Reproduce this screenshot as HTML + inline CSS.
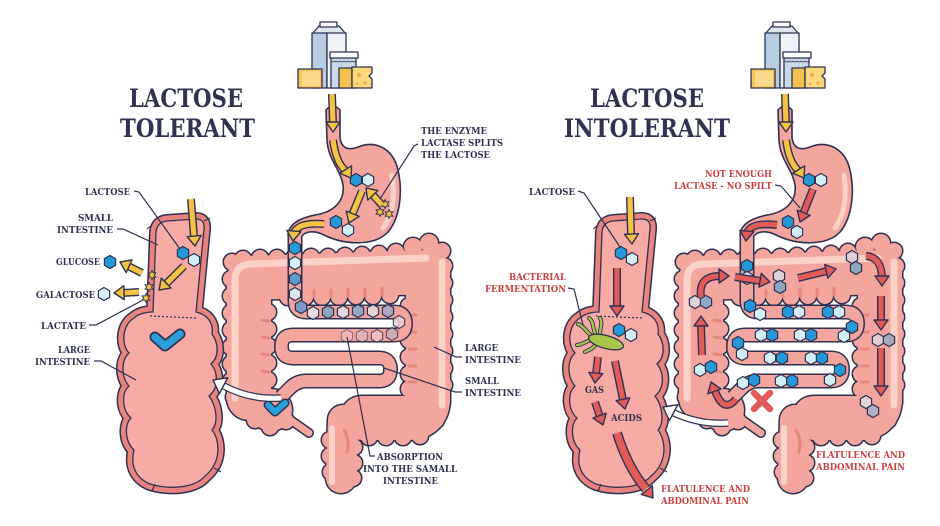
<!DOCTYPE html>
<html><head><meta charset="utf-8"><style>
html,body{margin:0;padding:0;background:#fff;}
svg{display:block;}
.lb{font-family:"DejaVu Serif","Liberation Serif",serif;font-weight:bold;font-size:9.5px;fill:#2e3150;}
.rd{fill:#c9403e;}
.tt{font-family:"DejaVu Serif","Liberation Serif",serif;font-weight:bold;font-size:25px;fill:#2f3250;}
.ln{fill:none;stroke:#2e3150;stroke-width:1.2;}
.o{fill:none;stroke:#2e3150;stroke-width:8;}
.y{fill:none;stroke:#f6c244;stroke-width:5.2;}
.r{fill:none;stroke:#e25b58;stroke-width:5.2;}
</style></head><body>
<svg width="940" height="526" viewBox="0 0 940 526" xmlns="http://www.w3.org/2000/svg">
<defs>
<polygon id="hx" points="0,-6.5 5.6,-3.25 5.6,3.25 0,6.5 -5.6,3.25 -5.6,-3.25" stroke="#2e3150" stroke-width="1.2"/>
<polygon id="st" points="0,-4.5 1.2,-2.08 3.9,-2.25 2.4,0 3.9,2.25 1.2,2.08 0,4.5 -1.2,2.08 -3.9,2.25 -2.4,0 -3.9,-2.25 -1.2,-2.08" fill="#f6c244" stroke="#2e3150" stroke-width="0.9"/>
<path id="ah" d="M0,0 L-10,-7 L-10,7 Z" stroke="#2e3150" stroke-width="1.4" stroke-linejoin="round"/>
<path id="ahw" d="M0,0 L-12,-9 L-12,9 Z" stroke="#2e3150" stroke-width="1.4" stroke-linejoin="round" fill="#fff"/>
<g id="bumps">
<circle cx="232" cy="262" r="8"/><circle cx="231" cy="279" r="8"/><circle cx="231" cy="296" r="8"/><circle cx="231" cy="313" r="8"/><circle cx="231" cy="330" r="8"/><circle cx="231" cy="347" r="8"/><circle cx="231" cy="364" r="8"/><circle cx="231" cy="381" r="8"/><circle cx="234" cy="397" r="8"/>
<circle cx="268" cy="312" r="8"/><circle cx="268" cy="329" r="8"/><circle cx="268" cy="346" r="8"/><circle cx="268" cy="363" r="8"/><circle cx="268" cy="380" r="8"/>
<circle cx="243" cy="259" r="8"/><circle cx="260" cy="258" r="8"/><circle cx="277" cy="258" r="8"/><circle cx="294" cy="258" r="8"/><circle cx="311" cy="257" r="8"/><circle cx="328" cy="257" r="8"/><circle cx="345" cy="256" r="8"/><circle cx="362" cy="255" r="8"/><circle cx="379" cy="254" r="8"/><circle cx="396" cy="252" r="8"/><circle cx="413" cy="247" r="9"/><circle cx="429" cy="243" r="9"/><circle cx="442" cy="251" r="8"/>
<circle cx="288" cy="297" r="8"/><circle cx="305" cy="297" r="8"/><circle cx="322" cy="297" r="8"/><circle cx="339" cy="297" r="8"/><circle cx="356" cy="296" r="8"/><circle cx="373" cy="296" r="8"/><circle cx="390" cy="295" r="8"/>
<circle cx="444" cy="266" r="8"/><circle cx="444" cy="283" r="8"/><circle cx="444" cy="300" r="8"/><circle cx="444" cy="317" r="8"/><circle cx="444" cy="334" r="8"/><circle cx="444" cy="351" r="8"/><circle cx="444" cy="368" r="8"/><circle cx="444" cy="385" r="8"/><circle cx="442" cy="402" r="8"/><circle cx="436" cy="420" r="8"/>
<circle cx="409" cy="306" r="8"/><circle cx="409" cy="323" r="8"/><circle cx="409" cy="340" r="8"/><circle cx="409" cy="357" r="8"/><circle cx="409" cy="374" r="8"/><circle cx="409" cy="389" r="8"/>
<circle cx="420" cy="436" r="8"/><circle cx="403" cy="437" r="8"/><circle cx="386" cy="437" r="8"/><circle cx="369" cy="437" r="8"/>
<circle cx="330" cy="440" r="8"/><circle cx="330" cy="456" r="8"/><circle cx="331" cy="472" r="8"/><circle cx="354" cy="447" r="8"/><circle cx="354" cy="463" r="8"/><circle cx="353" cy="478" r="8"/>
<circle cx="255" cy="420" r="8"/><circle cx="270" cy="427" r="8"/><circle cx="286" cy="421" r="8"/>
</g>
<g id="colon">
<path d="M249,398 L249,278 L428,272 L428,398 Q428,418 408,418 L362,418" fill="none" stroke="#2e3150" stroke-width="47" stroke-linejoin="round" stroke-linecap="round"/>
<path d="M343,420 L341,478" fill="none" stroke="#2e3150" stroke-width="33" stroke-linecap="round"/>
<circle cx="271" cy="410" r="22.5" fill="#2e3150"/>
<path d="M292,421 L309,433" stroke="#2e3150" stroke-width="10" stroke-linecap="round"/>
<use href="#bumps" fill="#2e3150" stroke="#2e3150" stroke-width="3"/>
<path d="M249,398 L249,278 L428,272 L428,398 Q428,418 408,418 L362,418" fill="none" stroke="#f4a59e" stroke-width="44" stroke-linejoin="round" stroke-linecap="round"/>
<path d="M343,420 L341,478" fill="none" stroke="#f4a59e" stroke-width="30" stroke-linecap="round"/>
<circle cx="271" cy="410" r="21" fill="#f4a59e"/>
<path d="M292,421 L309,433" stroke="#f4a59e" stroke-width="7" stroke-linecap="round"/>
<use href="#bumps" fill="#f4a59e"/>
<path d="M235,398 L235,280 Q235,264 252,264 L426,258" stroke="#fbd2c7" stroke-width="7" fill="none" stroke-linecap="round"/>
<path d="M442,262 L442,405" stroke="#fbd2c7" stroke-width="7" fill="none" stroke-linecap="round"/>
<path d="M332,428 L332,482" stroke="#fbd2c7" stroke-width="6" fill="none" stroke-linecap="round"/>
<g stroke="#e5877f" stroke-width="3" stroke-linecap="round" fill="none">
<path d="M262,320 L269,321 M262,337 L269,338 M262,354 L269,355 M262,371 L269,372"/>
<path d="M297,290 L297,297 M314,290 L314,297 M331,290 L331,297 M348,289 L348,296 M365,289 L365,296 M382,288 L382,295"/>
<path d="M409,315 L416,315 M409,332 L416,332 M409,349 L416,349 M409,366 L416,366 M409,382 L416,382"/>
<path d="M344,430 Q350,440 347,452"/>
</g>
<path d="M295,230 L295,301 Q295,312 306,312 L394,312 Q405.5,312 405.5,323.5 Q405.5,335 394,335 L293,335 Q281.5,335 281.5,346.5 Q281.5,358 293,358 L379,358 Q390.5,358 390.5,369.5 Q390.5,381 379,381 L306,381 Q297,381 290,388 L281,397" fill="none" stroke="#2e3150" stroke-width="15" stroke-linejoin="round"/>
<path d="M295,230 L295,301 Q295,312 306,312 L394,312 Q405.5,312 405.5,323.5 Q405.5,335 394,335 L293,335 Q281.5,335 281.5,346.5 Q281.5,358 293,358 L379,358 Q390.5,358 390.5,369.5 Q390.5,381 379,381 L306,381 Q297,381 290,388 L281,397" fill="none" stroke="#f4a59e" stroke-width="12" stroke-linejoin="round"/>
<path d="M326,110 Q333,102 340,110 L340,138 C342,150 350,150 358,147 C375,140 393,148 398,170 C403,192 400,218 388,232 C375,246 345,246 322,234 C312,230 305,232 302,236 L288,236 C288,224 300,218 315,215 C335,212 345,200 343,185 C341,170 328,160 327,140 Z" fill="#f4a59e"/>
<path d="M392,175 C395,195 393,215 383,228" fill="none" stroke="#fbd2c7" stroke-width="5" stroke-linecap="round"/>
<path d="M288,236 C288,224 300,218 315,215 C335,212 345,200 343,185 C341,170 328,160 327,140 L326,110 Q333,102 340,110 L340,138 C342,150 350,150 358,147 C375,140 393,148 398,170 C403,192 400,218 388,232 C375,246 345,246 322,234 C312,230 305,232 302,236" fill="none" stroke="#2e3150" stroke-width="1.6"/>
</g>
<g id="xs">
<path d="M153,312 L156,232 Q157,222 167,221 L196,219 Q205,219 204,229 L196,312 C206,314 214,322 212,334 C218,342 220,356 211,364 C218,372 219,388 209,396 C216,405 219,422 212,430 C220,440 222,462 205,476 C195,488 170,490 150,484 C136,478 130,466 134,450 C125,442 124,425 131,418 C122,410 121,393 129,386 C121,377 121,360 129,353 C121,345 122,325 134,318 C140,313 148,312 153,312 Z" fill="none" stroke="#2e3150" stroke-width="14" stroke-linejoin="round"/>
<path d="M153,312 L156,232 Q157,222 167,221 L196,219 Q205,219 204,229 L196,312 C206,314 214,322 212,334 C218,342 220,356 211,364 C218,372 219,388 209,396 C216,405 219,422 212,430 C220,440 222,462 205,476 C195,488 170,490 150,484 C136,478 130,466 134,450 C125,442 124,425 131,418 C122,410 121,393 129,386 C121,377 121,360 129,353 C121,345 122,325 134,318 C140,313 148,312 153,312 Z" fill="none" stroke="#e8837e" stroke-width="11" stroke-linejoin="round"/>
<path d="M153,312 L156,232 Q157,222 167,221 L196,219 Q205,219 204,229 L196,312 C206,314 214,322 212,334 C218,342 220,356 211,364 C218,372 219,388 209,396 C216,405 219,422 212,430 C220,440 222,462 205,476 C195,488 170,490 150,484 C136,478 130,466 134,450 C125,442 124,425 131,418 C122,410 121,393 129,386 C121,377 121,360 129,353 C121,345 122,325 134,318 C140,313 148,312 153,312 Z" fill="#f7aba4" stroke="#2e3150" stroke-width="1.3"/>
<path d="M150,316 L197,318" stroke="#2e3150" stroke-width="1.2" stroke-dasharray="2,2" fill="none"/>
<path d="M152,225 L147,229 M204,221 L210,218 M155,484 L152,491 M214,468 L221,472" stroke="#2e3150" stroke-width="1.1" fill="none"/>
</g>
<g id="dairy" stroke="#2e3150" stroke-width="1.3" stroke-linejoin="round">
<polygon points="312,34 319,26 339,26 346,34" fill="#dfe8f0"/>
<rect x="320" y="22" width="17" height="5" fill="#fff"/>
<rect x="312" y="33" width="15" height="55" fill="#b8cde0"/>
<rect x="327" y="33" width="19" height="55" fill="#eef3f7"/>
<rect x="331" y="57" width="25" height="31" fill="#c8d9e7"/>
<rect x="330" y="52" width="28" height="6" fill="#fff"/>
<path d="M332,61 q2,2 4,0 q2,2 4,0 q2,2 4,0 q2,2 4,0 q2,2 4,0 q2,2 4,0" fill="none" stroke-width="0.8"/>
<rect x="298" y="69" width="24" height="19" fill="#f6c453"/>
<rect x="302" y="71" width="18" height="15" fill="#fbd98c" stroke="none"/>
<rect x="339" y="68" width="13" height="20" fill="#f5c24f"/>
<path d="M352,67 L372,67 L372,73 L369,76 L372,79 L372,88 L352,88 Z" fill="#fbd77d"/>
<circle cx="359" cy="75" r="2" fill="#f0ac4a" stroke="none"/><circle cx="365" cy="83" r="1.5" fill="#f0ac4a" stroke="none"/><circle cx="357" cy="84" r="1.2" fill="#f0ac4a" stroke="none"/>
</g>
</defs>
<rect width="940" height="526" fill="#fff"/>

<use href="#colon"/>
<use href="#colon" x="452"/>
<use href="#xs"/>
<use href="#xs" x="446"/>
<use href="#dairy"/>
<use href="#dairy" x="453"/>

<!-- Titles -->
<text class="tt" x="129" y="107" textLength="114" lengthAdjust="spacingAndGlyphs">LACTOSE</text>
<text class="tt" x="120" y="137" textLength="135" lengthAdjust="spacingAndGlyphs">TOLERANT</text>
<text class="tt" x="590" y="107" textLength="114" lengthAdjust="spacingAndGlyphs">LACTOSE</text>
<text class="tt" x="564" y="137" textLength="166" lengthAdjust="spacingAndGlyphs">INTOLERANT</text>

<!-- LEFT PANEL details -->
<g>
<use href="#hx" x="356" y="180" fill="#2598d8"/><use href="#hx" x="368" y="180" fill="#d4f1fb"/>
<use href="#hx" x="336" y="222" fill="#2598d8"/><use href="#hx" x="348" y="230" fill="#d4f1fb"/>
<use href="#hx" x="295" y="248" fill="#2598d8"/><use href="#hx" x="295" y="263" fill="#d4f1fb"/>
<use href="#hx" x="295" y="279" fill="#5f9cc9"/><use href="#hx" x="295" y="294" fill="#dfe5ec"/>
<use href="#hx" x="301" y="307" fill="#7d9cc1"/><use href="#hx" x="313" y="313" fill="#ecdde1"/>
<use href="#hx" x="328" y="312" fill="#8ea3c0"/><use href="#hx" x="343" y="312" fill="#e8d5da"/>
<use href="#hx" x="358" y="311" fill="#99a8c2"/><use href="#hx" x="373" y="311" fill="#e6d2d6"/>
<use href="#hx" x="388" y="311" fill="#aaa9c0"/><use href="#hx" x="399" y="322" fill="#edd0d2" opacity="0.85"/>
<use href="#hx" x="392" y="334" fill="#c4aebb" opacity="0.75"/><use href="#hx" x="377" y="336" fill="#efcdcf" opacity="0.7"/>
<use href="#hx" x="362" y="336" fill="#dcbcc3" opacity="0.55"/><use href="#hx" x="347" y="336" fill="#f2cccc" opacity="0.45"/>
<use href="#hx" x="183" y="253" fill="#2598d8"/><use href="#hx" x="194" y="260" fill="#d4f1fb"/>
<use href="#hx" x="110" y="262" fill="#2598d8"/><use href="#hx" x="104" y="294" fill="#d4f1fb"/>
<use href="#st" x="385" y="204"/><use href="#st" x="380" y="212"/><use href="#st" x="389" y="214"/>
<use href="#st" x="152" y="275"/><use href="#st" x="149" y="287"/><use href="#st" x="146" y="298"/>

<path class="o" d="M332,94 L333,124"/><path class="y" d="M332,94 L333,124"/><use href="#ah" fill="#f6c244" transform="translate(333,132) rotate(90)"/>
<path class="o" d="M333,140 Q336,163 346,171"/><path class="y" d="M333,140 Q336,163 346,171"/><use href="#ah" fill="#f6c244" transform="translate(351,178) rotate(58)"/>
<path class="o" d="M362,191 L352,215"/><path class="y" d="M362,191 L352,215"/><use href="#ah" fill="#f6c244" transform="translate(349,223) rotate(112)"/>
<path class="o" d="M382,205 L372,194"/><path class="y" d="M382,205 L372,194"/><use href="#ah" fill="#f6c244" transform="translate(366,188) rotate(227)"/>
<path class="o" d="M324,224 Q298,222 294,233"/><path class="y" d="M324,224 Q298,222 294,233"/><use href="#ah" fill="#f6c244" transform="translate(293,241) rotate(95)"/>
<path class="o" d="M191,199 L194,237"/><path class="y" d="M191,199 L194,237"/><use href="#ah" fill="#f6c244" transform="translate(195,246) rotate(85)"/>
<path class="o" d="M184,266 L166,284"/><path class="y" d="M184,266 L166,284"/><use href="#ah" fill="#f6c244" transform="translate(159,290) rotate(136)"/>
<path class="o" d="M142,273 L128,266"/><path class="y" d="M142,273 L128,266"/><use href="#ah" fill="#f6c244" transform="translate(120,262) rotate(205)"/>
<path class="o" d="M139,292 L122,293"/><path class="y" d="M139,292 L122,293"/><use href="#ah" fill="#f6c244" transform="translate(114,293) rotate(178)"/>

<path d="M155,337 L165,346 L180,334" fill="none" stroke="#2e3150" stroke-width="11" stroke-linecap="round" stroke-linejoin="round"/>
<path d="M155,337 L165,346 L180,334" fill="none" stroke="#2a9fd9" stroke-width="7.5" stroke-linecap="round" stroke-linejoin="round"/>
<path d="M268,405 L275,412 L285,403" fill="none" stroke="#2e3150" stroke-width="9" stroke-linecap="round" stroke-linejoin="round"/>
<path d="M268,405 L275,412 L285,403" fill="none" stroke="#2a9fd9" stroke-width="6" stroke-linecap="round" stroke-linejoin="round"/>

<path d="M281,398 Q250,400 224,386" fill="none" stroke="#2e3150" stroke-width="7.5"/>
<path d="M281,398 Q250,400 224,386" fill="none" stroke="#fff" stroke-width="5"/>
<use href="#ahw" transform="translate(213,380) rotate(208)"/>

<path class="ln" d="M134,191 L139,192 L180,249"/>
<path class="ln" d="M117,229 L123,229 L158,245"/>
<path class="ln" d="M89,325 L96,325 L143,300"/>
<path class="ln" d="M94,361 L101,361 L136,380"/>
<path class="ln" d="M418,144 L414,146 L380,199"/>
<path class="ln" d="M462,357 L456,357 L434,347"/>
<path class="ln" d="M462,392 L455,392 L384,368"/>
<path class="ln" d="M375,456 L370,456 L347,337"/>

<text class="lb" x="85" y="195" textLength="45" lengthAdjust="spacingAndGlyphs">LACTOSE</text>
<text class="lb" x="78" y="221" textLength="35" lengthAdjust="spacingAndGlyphs">SMALL</text>
<text class="lb" x="57" y="233" textLength="56" lengthAdjust="spacingAndGlyphs">INTESTINE</text>
<text class="lb" x="56" y="265" textLength="44" lengthAdjust="spacingAndGlyphs">GLUCOSE</text>
<text class="lb" x="36" y="298" textLength="59" lengthAdjust="spacingAndGlyphs">GALACTOSE</text>
<text class="lb" x="41" y="329" textLength="45" lengthAdjust="spacingAndGlyphs">LACTATE</text>
<text class="lb" x="58" y="353" textLength="32" lengthAdjust="spacingAndGlyphs">LARGE</text>
<text class="lb" x="35" y="365" textLength="55" lengthAdjust="spacingAndGlyphs">INTESTINE</text>
<text class="lb" x="421" y="134" textLength="66" lengthAdjust="spacingAndGlyphs">THE ENZYME</text>
<text class="lb" x="421" y="146" textLength="82" lengthAdjust="spacingAndGlyphs">LACTASE SPLITS</text>
<text class="lb" x="421" y="158" textLength="69" lengthAdjust="spacingAndGlyphs">THE LACTOSE</text>
<text class="lb" x="465" y="351" textLength="33" lengthAdjust="spacingAndGlyphs">LARGE</text>
<text class="lb" x="465" y="363" textLength="56" lengthAdjust="spacingAndGlyphs">INTESTINE</text>
<text class="lb" x="465" y="384" textLength="34" lengthAdjust="spacingAndGlyphs">SMALL</text>
<text class="lb" x="465" y="396" textLength="56" lengthAdjust="spacingAndGlyphs">INTESTINE</text>
<text class="lb" x="377" y="460" textLength="66" lengthAdjust="spacingAndGlyphs">ABSORPTION</text>
<text class="lb" x="363" y="472" textLength="94" lengthAdjust="spacingAndGlyphs">INTO THE SAMALL</text>
<text class="lb" x="383" y="484" textLength="55" lengthAdjust="spacingAndGlyphs">INTESTINE</text>
</g>

<!-- RIGHT PANEL details -->
<g>
<use href="#hx" x="809" y="180" fill="#2598d8"/><use href="#hx" x="821" y="180" fill="#d4f1fb"/>
<use href="#hx" x="788" y="222" fill="#2598d8"/><use href="#hx" x="797" y="232" fill="#d4f1fb"/>
<use href="#hx" x="747" y="266" fill="#2598d8"/><use href="#hx" x="747" y="278" fill="#d4f1fb"/>
<use href="#hx" x="750" y="306" fill="#2598d8"/><use href="#hx" x="760" y="314" fill="#d4f1fb"/>
<use href="#hx" x="788" y="312" fill="#2598d8"/><use href="#hx" x="799" y="312" fill="#d4f1fb"/>
<use href="#hx" x="828" y="312" fill="#2598d8"/><use href="#hx" x="839" y="312" fill="#d4f1fb"/>
<use href="#hx" x="852" y="327" fill="#2598d8"/><use href="#hx" x="844" y="336" fill="#d4f1fb"/>
<use href="#hx" x="811" y="335" fill="#2598d8"/><use href="#hx" x="800" y="335" fill="#d4f1fb"/>
<use href="#hx" x="772" y="335" fill="#2598d8"/><use href="#hx" x="761" y="335" fill="#d4f1fb"/>
<use href="#hx" x="738" y="343" fill="#2598d8"/><use href="#hx" x="742" y="354" fill="#d4f1fb"/>
<use href="#hx" x="770" y="358" fill="#d4f1fb"/><use href="#hx" x="782" y="358" fill="#2598d8"/>
<use href="#hx" x="811" y="358" fill="#d4f1fb"/><use href="#hx" x="822" y="358" fill="#2598d8"/>
<use href="#hx" x="840" y="370" fill="#2598d8"/><use href="#hx" x="830" y="380" fill="#d4f1fb"/>
<use href="#hx" x="792" y="381" fill="#2598d8"/><use href="#hx" x="781" y="381" fill="#d4f1fb"/>
<use href="#hx" x="754" y="380" fill="#2598d8"/><use href="#hx" x="743" y="383" fill="#d4f1fb"/>
<use href="#hx" x="695" y="302" fill="#dfd3da"/><use href="#hx" x="706" y="302" fill="#8fa8c6"/>
<use href="#hx" x="700" y="370" fill="#d4f1fb"/><use href="#hx" x="711" y="367" fill="#2598d8"/>
<use href="#hx" x="779" y="276" fill="#ddd0d8"/><use href="#hx" x="780" y="287" fill="#8fa5c0"/>
<use href="#hx" x="852" y="257" fill="#ddd0d8"/><use href="#hx" x="856" y="268" fill="#8fa5c0"/>
<use href="#hx" x="878" y="340" fill="#e0ccd2"/><use href="#hx" x="889" y="340" fill="#a7a9bd"/>
<use href="#hx" x="866" y="402" fill="#e6d2d8"/><use href="#hx" x="873" y="411" fill="#b3b0c6"/>
<use href="#hx" x="621" y="253" fill="#2598d8"/><use href="#hx" x="632" y="259" fill="#d4f1fb"/>
<use href="#hx" x="619" y="330" fill="#2598d8"/><use href="#hx" x="631" y="335" fill="#d4f1fb"/>

<!-- bacteria -->
<g fill="none" stroke-linecap="round">
<path d="M592,336 C586,332 584,326 578,324 M595,333 C592,326 594,322 589,318 M600,334 C600,327 603,323 600,318 M591,340 C585,342 581,345 577,345 M596,344 C592,350 588,350 585,352" stroke="#2e3150" stroke-width="4.2"/>
<path d="M592,336 C586,332 584,326 578,324 M595,333 C592,326 594,322 589,318 M600,334 C600,327 603,323 600,318 M591,340 C585,342 581,345 577,345 M596,344 C592,350 588,350 585,352" stroke="#a7c64b" stroke-width="2.4"/>
</g>
<ellipse cx="606" cy="342" rx="18" ry="6.5" transform="rotate(15 606 342)" fill="#a7c64b" stroke="#2e3150" stroke-width="1.3"/>

<path class="o" d="M785,94 L786,124"/><path class="y" d="M785,94 L786,124"/><use href="#ah" fill="#f6c244" transform="translate(786,132) rotate(90)"/>
<path class="o" d="M786,140 Q789,163 799,171"/><path class="y" d="M786,140 Q789,163 799,171"/><use href="#ah" fill="#f6c244" transform="translate(804,178) rotate(58)"/>
<path class="o" d="M813,189 L803,214"/><path class="r" d="M813,189 L803,214"/><use href="#ah" fill="#e25b58" transform="translate(800,222) rotate(112)"/>
<path class="o" d="M777,225 Q751,222 747,233"/><path class="r" d="M777,225 Q751,222 747,233"/><use href="#ah" fill="#e25b58" transform="translate(746,241) rotate(95)"/>
<path class="o" d="M630,197 L631,235"/><path class="y" d="M630,197 L631,235"/><use href="#ah" fill="#f6c244" transform="translate(632,244) rotate(87)"/>
<path class="o" d="M617,268 L617,307"/><path class="r" d="M617,268 L617,307"/><use href="#ah" fill="#e25b58" transform="translate(617,316) rotate(90)"/>
<path class="o" d="M598,357 L596,374"/><path class="r" d="M598,357 L596,374"/><use href="#ah" fill="#e25b58" transform="translate(595,383) rotate(95)"/>
<path class="o" d="M615,361 L623,400"/><path class="r" d="M615,361 L623,400"/><use href="#ah" fill="#e25b58" transform="translate(625,409) rotate(78)"/>
<path class="o" d="M595,402 L600,417"/><path class="r" d="M595,402 L600,417"/><use href="#ah" fill="#e25b58" transform="translate(603,425) rotate(70)"/>
<path d="M617,433 Q628,468 646,489" fill="none" stroke="#2e3150" stroke-width="10"/><path d="M617,433 Q628,468 646,489" fill="none" stroke="#e25b58" stroke-width="7.2"/><use href="#ah" fill="#e25b58" transform="translate(653,498) rotate(52)"/>
<path class="o" d="M701,297 Q698,276 720,276"/><path class="r" d="M701,297 Q698,276 720,276"/><use href="#ah" fill="#e25b58" transform="translate(729,276) rotate(0)"/>
<path class="o" d="M735,277 L761,281"/><path class="r" d="M735,277 L761,281"/><use href="#ah" fill="#e25b58" transform="translate(770,282) rotate(10)"/>
<path class="o" d="M798,278 L827,271"/><path class="r" d="M798,278 L827,271"/><use href="#ah" fill="#e25b58" transform="translate(836,269) rotate(-13)"/>
<path class="o" d="M866,256 Q881,257 882,277"/><path class="r" d="M866,256 Q881,257 882,277"/><use href="#ah" fill="#e25b58" transform="translate(882,286) rotate(90)"/>
<path class="o" d="M881,296 L881,321"/><path class="r" d="M881,296 L881,321"/><use href="#ah" fill="#e25b58" transform="translate(881,330) rotate(90)"/>
<path class="o" d="M881,348 L881,387"/><path class="r" d="M881,348 L881,387"/><use href="#ah" fill="#e25b58" transform="translate(881,396) rotate(90)"/>
<path class="o" d="M702,355 L701,325"/><path class="r" d="M702,355 L701,325"/><use href="#ah" fill="#e25b58" transform="translate(701,316) rotate(-90)"/>
<path class="o" d="M736,399 Q724,414 715,391"/><path class="r" d="M736,399 Q724,414 715,391"/><use href="#ah" fill="#e25b58" transform="translate(711,382) rotate(-110)"/>

<path d="M754,393 L770,409 M770,393 L754,409" stroke="#e25b58" stroke-width="6.5" stroke-linecap="round"/>

<path d="M728,423 Q700,425 674,413" fill="none" stroke="#2e3150" stroke-width="7.5"/>
<path d="M728,423 Q700,425 674,413" fill="none" stroke="#fff" stroke-width="5"/>
<use href="#ahw" transform="translate(663,407) rotate(208)"/>

<path class="ln" d="M578,191 L584,193 L620,247"/>
<path class="ln" d="M775,185 L781,186 L800,208"/>
<path class="ln" d="M568,288 L574,289 L583,325"/>

<text class="lb" x="529" y="195" textLength="46" lengthAdjust="spacingAndGlyphs">LACTOSE</text>
<text class="lb rd" x="705" y="177" textLength="67" lengthAdjust="spacingAndGlyphs">NOT ENOUGH</text>
<text class="lb rd" x="674" y="189" textLength="98" lengthAdjust="spacingAndGlyphs">LACTASE - NO SPILT</text>
<text class="lb rd" x="509" y="280" textLength="57" lengthAdjust="spacingAndGlyphs">BACTERIAL</text>
<text class="lb rd" x="485" y="292" textLength="81" lengthAdjust="spacingAndGlyphs">FERMENTATION</text>
<text class="lb" x="585" y="393" textLength="19" lengthAdjust="spacingAndGlyphs">GAS</text>
<text class="lb" x="611" y="421" textLength="31" lengthAdjust="spacingAndGlyphs">ACIDS</text>
<text class="lb rd" x="661" y="492" textLength="89" lengthAdjust="spacingAndGlyphs">FLATULENCE AND</text>
<text class="lb rd" x="661" y="504" textLength="88" lengthAdjust="spacingAndGlyphs">ABDOMINAL PAIN</text>
<text class="lb rd" x="816" y="458" textLength="89" lengthAdjust="spacingAndGlyphs">FLATULENCE AND</text>
<text class="lb rd" x="816" y="470" textLength="89" lengthAdjust="spacingAndGlyphs">ABDOMINAL PAIN</text>
</g>
</svg>
</body></html>
